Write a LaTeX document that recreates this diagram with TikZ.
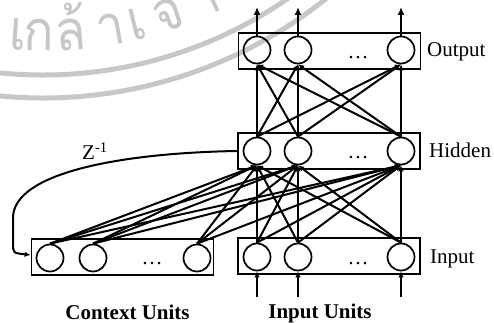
\documentclass[tikz,border=0pt]{standalone}
\usepackage{fontspec}
\setmainfont{Liberation Serif}
\newfontfamily\thaifont[Script=Thai]{Loma}
\usepackage{xcolor}
\usepackage{tikz}
\usetikzlibrary{arrows.meta}

\begin{document}
\begin{tikzpicture}[x=1pt,y=1pt,
    layer/.style={draw, line width=1.8pt, minimum width=182pt, minimum height=36pt, inner sep=0pt},
    unit/.style={draw, circle, line width=1.7pt, minimum size=27pt, inner sep=0pt},
    link/.style={line width=2pt, -{Latex[length=6pt,width=5.5pt]}},
    outarrow/.style={line width=2pt, -{Latex[length=8pt,width=7pt]}},
    lbl/.style={inner sep=0pt, font=\fontsize{21}{25}\selectfont},
    caption/.style={inner sep=0pt, font=\fontsize{21}{25}\selectfont\bfseries},
    wmark/.style={draw=black!22, line width=5pt},
    wtext/.style={anchor=base, inner sep=0pt, text=black!22, font=\thaifont\fontsize{56}{60}\selectfont}]

    \useasboundingbox (0,0) rectangle (494,323);

    % Seal in the background
    \begin{scope}
        \clip (0,0) rectangle (494,323);
        \coordinate (seal) at (43,678);
        \draw[wmark] (seal) ++(250:430) arc[start angle=250, end angle=320, radius=430];
        \draw[wmark] (seal) ++(250:453) arc[start angle=250, end angle=320, radius=453];
        \foreach \a/\t in {261.5/ม, 266.3/เ, 269.4/ก, 274.1/ล้, 280/า, 284/เ, 288.8/จ้, 294.5/า}
            \node[wtext, rotate=\a+90, xscale=0.9] at ([shift={(\a:406)}]seal) {\t};
    \end{scope}

    % Output layer
    \node[layer] (outbox) at (329.5,272) {};
    \node[unit] (o1) at (257,273) {};
    \node[unit] (o2) at (298,273) {};
    \node[unit] (o3) at (401,273) {};
    \node[lbl, anchor=base] (odots) at (358,264) {\dots};
    \node[lbl, anchor=base west] (outlbl) at (427,266) {Output};

    % Hidden layer
    \node[layer] (hidbox) at (329,172) {};
    \node[unit] (h1) at (257,172) {};
    \node[unit] (h2) at (298,172) {};
    \node[unit] (h3) at (401,172) {};
    \node[lbl, anchor=base] (hdots) at (358,164) {\dots};
    \node[lbl, anchor=base west] (hidlbl) at (429,165) {Hidden};

    % Input layer
    \node[layer] (inbox) at (329,67) {};
    \node[unit] (i1) at (257,66) {};
    \node[unit] (i2) at (298,66) {};
    \node[unit] (i3) at (401,66) {};
    \node[lbl, anchor=base] (idots) at (358,58) {\dots};
    \node[lbl, anchor=base west] (inlbl) at (430,59) {Input};

    % Context layer
    \node[layer] (ctxbox) at (122.5,66) {};
    \node[unit] (c1) at (50,65) {};
    \node[unit] (c2) at (93,65) {};
    \node[unit] (c3) at (197,65) {};
    \node[lbl, anchor=base] (cdots) at (152,58) {\dots};

    % Captions
    \node[caption, anchor=base] (ctxcap) at (127.5,3) {Context Units};
    \node[caption, anchor=base] (incap) at (320,4) {Input Units};

    % Weights between layers
    \foreach \i in {1,2,3}
        \foreach \j in {1,2,3} {
            \draw[link] (c\i.north) -- (h\j.south);
            \draw[link] (i\i.north) -- (h\j.south);
            \draw[link] (h\i.north) -- (o\j.south);
        }

    % Outputs and inputs
    \coordinate (y1) at (257,316);
    \coordinate (y2) at (298,316);
    \coordinate (y3) at (401,316);
    \coordinate (x1) at (257,26);
    \coordinate (x2) at (298,26);
    \coordinate (x3) at (401,26);
    \foreach \i in {1,2,3} {
        \draw[outarrow] (o\i.north) -- (y\i);
        \draw[link] (x\i) -- (i\i.south);
    }

    % Copy of the hidden layer
    \draw[link] (hidbox.west) .. controls (120,170) and (13,150) .. (13,105)
        -- (13,80) .. controls (13,70) .. ([yshift=2pt]ctxbox.west);
    \node[lbl, anchor=base west] (zinv) at (82,163) {Z\textsuperscript{-1}};
\end{tikzpicture}
\end{document}
